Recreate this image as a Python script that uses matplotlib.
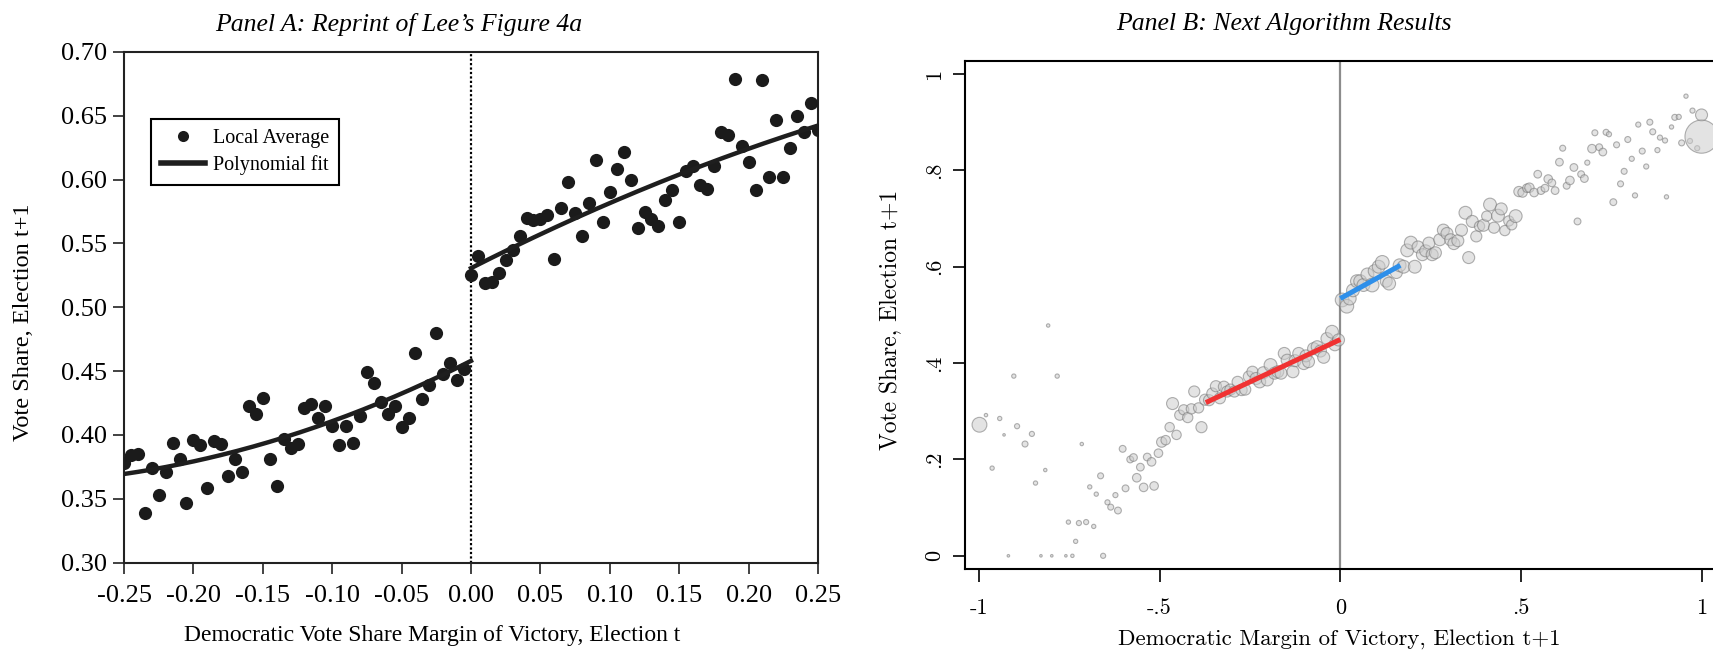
import numpy as np
import matplotlib
matplotlib.use("Agg")
import matplotlib.pyplot as plt
from matplotlib.lines import Line2D

plt.rcParams["axes.unicode_minus"] = False

# ---------------- Panel A : Lee (2008) figure 4a ----------------
bin_w = 0.005
a_x_left = np.round(np.arange(-0.25, -0.0001, bin_w), 3)   # 50 bins
a_y_left = [0.378, 0.384, 0.385, 0.339, 0.374, 0.353, 0.371, 0.394, 0.381, 0.347,
            0.396, 0.392, 0.358, 0.395, 0.393, 0.368, 0.381, 0.371, 0.423, 0.416,
            0.429, 0.381, 0.360, 0.397, 0.390, 0.393, 0.421, 0.424, 0.413, 0.423,
            0.407, 0.392, 0.407, 0.394, 0.415, 0.449, 0.441, 0.426, 0.416, 0.423,
            0.406, 0.413, 0.464, 0.428, 0.439, 0.480, 0.448, 0.456, 0.443, 0.452]
a_x_right = np.round(np.arange(0.0, 0.2501, bin_w), 3)     # 51 bins
a_y_right = [0.525, 0.540, 0.519, 0.520, 0.527, 0.537, 0.545, 0.556, 0.570, 0.568,
             0.569, 0.572, 0.538, 0.578, 0.598, 0.574, 0.556, 0.582, 0.615, 0.567,
             0.590, 0.608, 0.622, 0.600, 0.562, 0.575, 0.569, 0.564, 0.584, 0.592,
             0.567, 0.607, 0.611, 0.596, 0.593, 0.611, 0.637, 0.635, 0.679, 0.626,
             0.614, 0.592, 0.678, 0.602, 0.647, 0.602, 0.625, 0.650, 0.637, 0.660, 0.639]
a_xticks = [-0.25, -0.20, -0.15, -0.10, -0.05, 0.00, 0.05, 0.10, 0.15, 0.20, 0.25]
a_yticks = [0.30, 0.35, 0.40, 0.45, 0.50, 0.55, 0.60, 0.65, 0.70]

# ---------------- Panel B : binned scatter, weights = bin counts ----------------
b_x = [-0.998, -0.980, -0.942, -0.963, -0.930, -0.903, -0.894, -0.872, -0.853, -0.843,
       -0.816, -0.783, -0.808, -0.918, -0.828, -0.798, -0.759, -0.741, -0.656, -0.752,
       -0.723, -0.703, -0.682, -0.732, -0.715, -0.693, -0.675, -0.663, -0.644, -0.635,
       -0.622, -0.615, -0.602, -0.594, -0.581, -0.572, -0.563, -0.553, -0.544, -0.534,
       -0.522, -0.515, -0.503, -0.494, -0.483, -0.472, -0.453, -0.464, -0.444, -0.433,
       -0.422, -0.412, -0.404, -0.392, -0.384, -0.374, -0.363, -0.354, -0.344, -0.333,
       -0.322, -0.313, -0.304, -0.293, -0.284, -0.273, -0.263, -0.253, -0.243, -0.233,
       -0.223, -0.213, -0.202, -0.193, -0.182, -0.173, -0.164, -0.155, -0.147, -0.131,
       -0.125, -0.115, -0.101, -0.095, -0.088, -0.074, -0.064, -0.055, -0.046, -0.037,
       -0.023, -0.015, -0.005,
       0.005, 0.018, 0.026, 0.035, 0.046, 0.055, 0.064, 0.075, 0.088, 0.095,
       0.106, 0.116, 0.127, 0.135, 0.155, 0.164, 0.175, 0.185, 0.195, 0.206,
       0.215, 0.227, 0.236, 0.245, 0.254, 0.263, 0.275, 0.285, 0.295, 0.305,
       0.314, 0.325, 0.335, 0.346, 0.355, 0.365, 0.376, 0.385, 0.396, 0.405,
       0.414, 0.425, 0.436, 0.445, 0.455, 0.466, 0.474, 0.485, 0.494, 0.504,
       0.516, 0.523, 0.536, 0.546, 0.555, 0.566, 0.575, 0.585, 0.594, 0.606,
       0.615, 0.626, 0.635, 0.646, 0.656, 0.666, 0.675, 0.683, 0.696, 0.704,
       0.716, 0.726, 0.735, 0.743, 0.755, 0.764, 0.775, 0.785, 0.795, 0.806,
       0.815, 0.824, 0.835, 0.846, 0.856, 0.864, 0.877, 0.884, 0.898, 0.902,
       0.916, 0.925, 0.936, 0.944, 0.956, 0.967, 0.974, 0.987, 0.999, 0.999]
b_y = [0.272, 0.292, 0.285, 0.182, 0.251, 0.373, 0.269, 0.232, 0.253, 0.151,
       0.178, 0.373, 0.478, 0.000, 0.000, 0.000, 0.000, 0.000, 0.000, 0.070,
       0.068, 0.070, 0.061, 0.030, 0.232, 0.143, 0.128, 0.166, 0.111, 0.101,
       0.126, 0.094, 0.222, 0.140, 0.200, 0.204, 0.162, 0.184, 0.142, 0.205,
       0.195, 0.145, 0.213, 0.236, 0.240, 0.267, 0.251, 0.316, 0.292, 0.303,
       0.287, 0.305, 0.341, 0.307, 0.267, 0.324, 0.323, 0.337, 0.352, 0.327,
       0.351, 0.341, 0.345, 0.341, 0.361, 0.344, 0.345, 0.372, 0.382, 0.368,
       0.361, 0.380, 0.365, 0.396, 0.379, 0.382, 0.379, 0.420, 0.406, 0.382,
       0.405, 0.420, 0.399, 0.415, 0.403, 0.430, 0.434, 0.425, 0.412, 0.451,
       0.465, 0.438, 0.448,
       0.531, 0.518, 0.534, 0.551, 0.570, 0.570, 0.562, 0.584, 0.562, 0.591,
       0.600, 0.609, 0.570, 0.565, 0.588, 0.603, 0.600, 0.634, 0.650, 0.600,
       0.641, 0.625, 0.633, 0.649, 0.625, 0.629, 0.656, 0.676, 0.669, 0.656,
       0.648, 0.654, 0.676, 0.712, 0.619, 0.694, 0.663, 0.684, 0.686, 0.705,
       0.729, 0.681, 0.706, 0.720, 0.675, 0.695, 0.687, 0.705, 0.756, 0.754,
       0.763, 0.764, 0.754, 0.792, 0.758, 0.763, 0.782, 0.774, 0.758, 0.817,
       0.846, 0.768, 0.779, 0.806, 0.694, 0.792, 0.783, 0.816, 0.845, 0.878,
       0.848, 0.838, 0.879, 0.875, 0.734, 0.853, 0.772, 0.798, 0.864, 0.824,
       0.748, 0.895, 0.840, 0.808, 0.900, 0.880, 0.842, 0.868, 0.862, 0.745,
       0.890, 0.910, 0.911, 0.857, 0.954, 0.861, 0.924, 0.846, 0.915, 0.870]
b_n = [300, 16, 25, 25, 9, 25, 36, 49, 36, 25,
       16, 25, 16, 9, 9, 9, 9, 16, 36, 25,
       36, 36, 25, 25, 16, 25, 25, 49, 36, 49,
       36, 64, 64, 64, 64, 81, 100, 81, 100, 81,
       100, 100, 100, 144, 121, 121, 121, 196, 144, 144,
       144, 144, 169, 144, 169, 169, 169, 169, 169, 169,
       169, 169, 169, 169, 169, 169, 169, 169, 169, 196,
       196, 196, 196, 225, 196, 196, 196, 196, 196, 196,
       196, 196, 196, 196, 196, 196, 196, 196, 196, 196,
       225, 196, 196,
       256, 256, 225, 225, 225, 225, 225, 225, 256, 225,
       225, 256, 196, 225, 196, 225, 225, 225, 225, 225,
       196, 196, 196, 196, 196, 196, 196, 196, 196, 196,
       196, 196, 196, 225, 196, 196, 169, 144, 196, 144,
       225, 169, 225, 196, 144, 144, 144, 225, 144, 121,
       100, 121, 100, 81, 81, 81, 100, 81, 81, 81,
       49, 64, 100, 81, 64, 64, 81, 36, 100, 49,
       64, 81, 49, 36, 64, 49, 49, 49, 49, 36,
       36, 36, 49, 36, 49, 49, 36, 36, 36, 25,
       25, 49, 36, 49, 25, 36, 36, 36, 196, 1500]
# local linear fits on each side of the cutoff
b_fit_left_x = [-0.372, 0.0]
b_fit_left_y = [0.318, 0.449]
b_fit_right_x = [0.0, 0.166]
b_fit_right_y = [0.534, 0.603]
b_xticks = [-1, -0.5, 0, 0.5, 1]
b_xticklabels = ["-1", "-.5", "0", ".5", "1"]
b_yticks = [0, 0.2, 0.4, 0.6, 0.8, 1]
b_yticklabels = ["0", ".2", ".4", ".6", ".8", "1"]

W, H = 1713, 653
fig = plt.figure(figsize=(W / 100, H / 100), dpi=100)

times = "Liberation Serif"
cm = "cmr10"

# ---------------- Panel A ----------------
axA = fig.add_axes([124 / W, 1 - 562.5 / H, 694 / W, 510.5 / H])
dot_col = "#1b1b1b"
axA.plot(a_x_left, a_y_left, "o", ms=9.5, color=dot_col, mec="none", zorder=3)
axA.plot(a_x_right, a_y_right, "o", ms=9.5, color=dot_col, mec="none", zorder=3)

# smooth polynomial fit on each side of the cutoff
pl = np.polyfit(a_x_left, a_y_left, 2)
pr = np.polyfit(a_x_right, a_y_right, 2)
xl = np.linspace(-0.25, 0, 200)
xr = np.linspace(0, 0.25, 200)
axA.plot(xl, np.polyval(pl, xl), color="#1e1e1e", lw=3.2, zorder=4)
axA.plot(xr, np.polyval(pr, xr), color="#1e1e1e", lw=3.2, zorder=4)

axA.axvline(0, color="black", ls=(0, (1, 1)), lw=1.6, zorder=2)
axA.set_xlim(-0.25, 0.25)
axA.set_ylim(0.30, 0.70)
axA.set_xticks(a_xticks)
axA.set_xticklabels(["%.2f" % v for v in a_xticks], fontfamily=times, fontsize=19)
axA.set_yticks(a_yticks)
axA.set_yticklabels(["%.2f" % v for v in a_yticks], fontfamily=times, fontsize=19)
axA.tick_params(axis="x", direction="out", length=8, width=1.2, pad=8, color="#222")
axA.tick_params(axis="y", direction="out", length=8, width=1.2, pad=4, color="#222")
for s in axA.spines.values():
    s.set_linewidth(1.5)
    s.set_color("#222")

handles = [Line2D([], [], ls="none", marker="o", ms=8, color=dot_col, mec="none"),
           Line2D([], [], color="#1e1e1e", lw=4)]
leg = axA.legend(handles, ["Local Average", "Polynomial fit"], loc="upper left",
                 bbox_to_anchor=(0.0385, 0.8697), borderaxespad=0,
                 prop={"family": times, "size": 14.5}, fancybox=False,
                 edgecolor="black", framealpha=1, handlelength=2.2,
                 handletextpad=0.4, labelspacing=0.35, borderpad=0.5)
leg.get_frame().set_linewidth(1.5)

fig.text(399 / W, 1 - 24 / H, "Panel A: Reprint of Lee\u2019s Figure 4a", ha="center",
         va="center", fontfamily=times, style="italic", fontsize=18.5)
fig.text(432 / W, 1 - 636 / H, "Democratic Vote Share Margin of Victory, Election t",
         ha="center", va="center", fontfamily=times, fontsize=17)
fig.text(24 / W, 1 - 322 / H, "Vote Share, Election t+1", ha="center", va="center",
         rotation=90, fontfamily=times, fontsize=17.5)

# ---------------- Panel B ----------------
axB = fig.add_axes([965 / W, 1 - 569.3 / H, (W - 965) / W, (569.3 - 60.7) / H])
axB.axvline(0, color="#8c8c8c", lw=1.6, zorder=1)
axB.scatter(b_x, b_y, s=np.array(b_n) * 0.38, facecolors=(0.8, 0.8, 0.8, 0.55),
            edgecolors=(0.45, 0.45, 0.45, 0.55), linewidths=0.8, zorder=2)
axB.plot(b_fit_left_x, b_fit_left_y, color="#f03232", lw=3.6, solid_capstyle="butt", zorder=3)
axB.plot(b_fit_right_x, b_fit_right_y, color="#2e8fea", lw=3.6, solid_capstyle="butt", zorder=3)
axB.set_xlim(-1.038, 1.0307)
axB.set_ylim(-0.028, 1.0276)
axB.set_xticks(b_xticks)
axB.set_xticklabels(b_xticklabels, fontfamily=cm, fontsize=16)
axB.set_yticks(b_yticks)
axB.set_yticklabels(b_yticklabels, fontfamily=cm, fontsize=16, rotation=90, va="center")
axB.tick_params(axis="x", direction="out", length=9, width=1.2, pad=12)
axB.tick_params(axis="y", direction="out", length=9, width=1.2, pad=6)
axB.spines["right"].set_visible(False)
for k in ("left", "bottom", "top"):
    axB.spines[k].set_linewidth(1.5)

fig.text(1284 / W, 1 - 24 / H, "Panel B: Next Algorithm Results", ha="center",
         va="center", fontfamily=times, style="italic", fontsize=18.5)
fig.text(1339 / W, 1 - 639 / H, "Democratic Margin of Victory, Election t+1",
         ha="center", va="center", fontfamily=cm, fontsize=16.5)
fig.text(891 / W, 1 - 320 / H, "Vote Share, Election t+1", ha="center", va="center",
         rotation=90, fontfamily=cm, fontsize=17)

fig.savefig("out.png", dpi=100)
